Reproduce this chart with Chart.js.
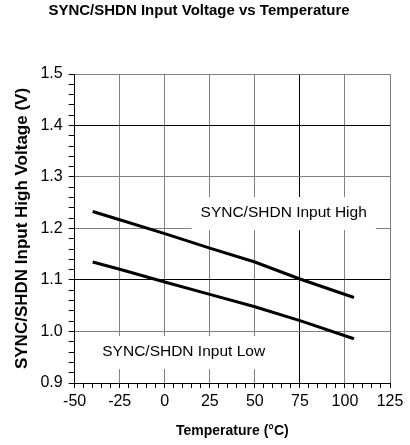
<!DOCTYPE html>
<html>
<head>
<meta charset="utf-8">
<script src="https://cdn.jsdelivr.net/npm/chart.js@4"></script>
<style>
  html, body { margin: 0; padding: 0; background: #fff; }
  #wrap { width: 410px; height: 445px; }
</style>
</head>
<body>
<div id="wrap"><canvas id="tempChart"></canvas></div>
<script>
// temperatures (°C) where the curves were read
const temps = [-40, -25, 0, 25, 50, 75, 105]
const inputHigh = [1.233, 1.217, 1.190, 1.162, 1.135, 1.102, 1.066]
const inputLow = [1.135, 1.121, 1.096, 1.072, 1.048, 1.021, 0.986]

const xMajor = [-50, -25, 0, 25, 50, 75, 100, 125]
const yMajor = [0.9, 1.0, 1.1, 1.2, 1.3, 1.4, 1.5]

const curveLabels = ['SYNC/SHDN Input High', 'SYNC/SHDN Input Low']
const labelAt = [[66, 1.23], [10.5, 0.96]]

const FONT = "'Liberation Sans', Arial, sans-serif"

const isMajor = (v, list) => list.some(m => Math.abs(m - v) < 1e-6)

const toPoints = ys => temps.map((t, i) => ({ x: t, y: ys[i] }))

// boxed text labels inside the plot
const curveText = {
  id: 'curveText',
  beforeDatasetsDraw (chart) {
    const { ctx, scales } = chart
    ctx.save()
    ctx.font = '15.5px ' + FONT
    ctx.textAlign = 'center'
    ctx.textBaseline = 'middle'
    curveLabels.forEach((txt, i) => {
      const px = scales.x.getPixelForValue(labelAt[i][0])
      const py = scales.y.getPixelForValue(labelAt[i][1])
      const w = ctx.measureText(txt).width
      ctx.fillStyle = '#fff'
      ctx.fillRect(px - w / 2 - 9, py - 16, w + 18, 33)
      ctx.fillStyle = '#000'
      ctx.fillText(txt, px, py)
    })
    ctx.restore()
  }
}

const ctx = document.getElementById('tempChart').getContext('2d')
const chart = new Chart(ctx, {
  type: 'line',
  data: {
    datasets: [{
      label: curveLabels[0],
      data: toPoints(inputHigh),
      borderColor: '#000',
      borderWidth: 3,
      pointRadius: 0,
      tension: 0
    }, {
      label: curveLabels[1],
      data: toPoints(inputLow),
      borderColor: '#000',
      borderWidth: 3,
      pointRadius: 0,
      tension: 0
    }]
  },
  options: {
    responsive: true,
    maintainAspectRatio: false,
    animation: false,
    layout: { padding: { top: 2, right: 20, left: 8, bottom: 1 } },
    plugins: {
      legend: { display: false },
      tooltip: { enabled: false },
      title: {
        display: true,
        text: 'SYNC/SHDN Input Voltage vs Temperature',
        color: '#000',
        font: { family: FONT, size: 15, weight: 'bold' },
        padding: { top: 0, bottom: 54 }
      }
    },
    scales: {
      x: {
        type: 'linear',
        min: -50,
        max: 125,
        ticks: {
          stepSize: 5,
          autoSkip: false,
          maxRotation: 0,
          color: '#000',
          font: { family: FONT, size: 16 },
          padding: 4,
          callback: v => isMajor(v, xMajor) ? String(v) : ''
        },
        grid: {
          color: c => {
            const v = c.tick ? c.tick.value : null
            if (v === null || !isMajor(v, xMajor)) return 'transparent'
            return v === 75 ? '#000' : '#808080'
          },
          tickColor: '#000',
          tickLength: 5,
          lineWidth: 1
        },
        border: { color: '#000', width: 1 },
        title: {
          display: true,
          text: 'Temperature (°C)',
          color: '#000',
          font: { family: FONT, size: 14, weight: 'bold' },
          padding: { top: 8 }
        }
      },
      y: {
        min: 0.9,
        max: 1.5,
        ticks: {
          stepSize: 0.02,
          autoSkip: false,
          color: '#000',
          font: { family: FONT, size: 16 },
          padding: 6,
          callback: v => isMajor(v, yMajor) ? v.toFixed(1) : ''
        },
        grid: {
          color: c => {
            const v = c.tick ? c.tick.value : null
            if (v === null || !isMajor(v, yMajor)) return 'transparent'
            return (Math.abs(v - 1.1) < 1e-6 || Math.abs(v - 1.4) < 1e-6) ? '#000' : '#808080'
          },
          tickColor: '#000',
          tickLength: 6,
          lineWidth: 1
        },
        border: { color: '#000', width: 1 },
        title: {
          display: true,
          text: 'SYNC/SHDN Input High Voltage (V)',
          color: '#000',
          font: { family: FONT, size: 17, weight: 'bold' },
          padding: { bottom: 2 }
        }
      }
    }
  },
  plugins: [curveText]
})
</script>
</body>
</html>
